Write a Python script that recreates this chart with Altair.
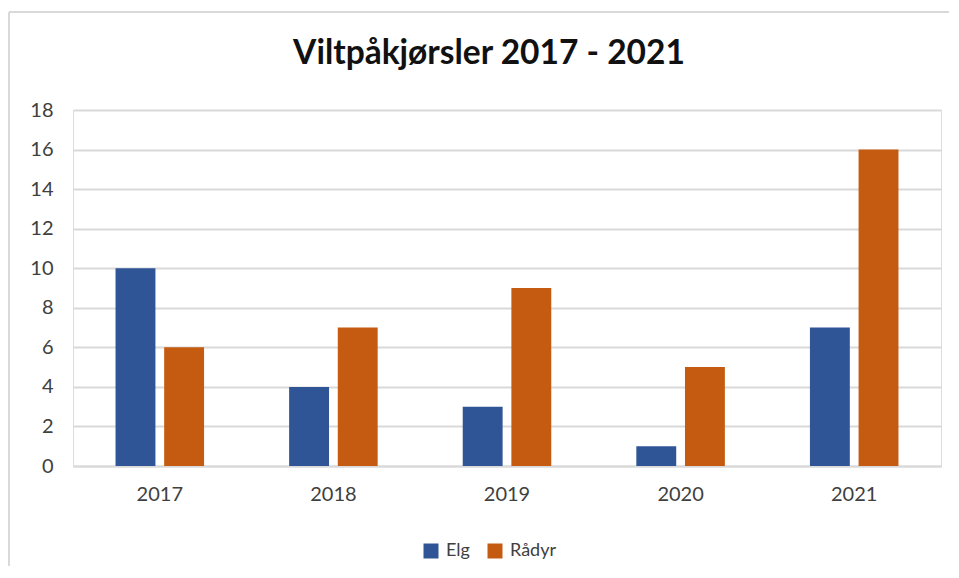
import altair as alt
import pandas as pd

years = ["2017", "2018", "2019", "2020", "2021"]
elg = [10, 4, 3, 1, 7]
radyr = [6, 7, 9, 5, 16]
series = ["Elg", "Rådyr"]
colors = ["#2F5597", "#C55A11"]
y_ticks = [0, 2, 4, 6, 8, 10, 12, 14, 16, 18]

rows = []
for i, yr in enumerate(years):
    rows.append({"År": yr, "Art": "Elg", "Antall": elg[i]})
    rows.append({"År": yr, "Art": "Rådyr", "Antall": radyr[i]})
df = pd.DataFrame(rows)

FONT = "Lato"
TXT = "#404040"

one = pd.DataFrame({"a": [0]})
frame_top = alt.Chart(one).mark_rule(stroke="#d9d9d9", strokeWidth=2).encode(
    x=alt.value(-64), x2=alt.value(880), y=alt.value(-98)
)
frame_left = alt.Chart(one).mark_rule(stroke="#d9d9d9", strokeWidth=2).encode(
    x=alt.value(-64), y=alt.value(-98), y2=alt.value(460)
)

bars = alt.Chart(df).mark_bar().encode(
    x=alt.X(
        "År:N", sort=years,
        scale=alt.Scale(paddingInner=0.49, paddingOuter=0.245),
        axis=alt.Axis(title=None, labelAngle=0, labelFontSize=20, labelPadding=18,
                      ticks=False, domainColor="#d9d9d9", domainWidth=2,
                      labelColor=TXT, labelFont=FONT, grid=False),
    ),
    xOffset=alt.XOffset("Art:N", sort=series, scale=alt.Scale(paddingInner=0.18)),
    y=alt.Y(
        "Antall:Q", scale=alt.Scale(domain=[0, 18]),
        axis=alt.Axis(title=None, values=y_ticks, labelFontSize=20, labelPadding=20,
                      ticks=False, domain=False, gridColor="#d9d9d9", gridWidth=2,
                      labelColor=TXT, labelFont=FONT),
    ),
    color=alt.Color(
        "Art:N", sort=series,
        scale=alt.Scale(domain=series, range=colors),
        legend=alt.Legend(title=None, orient="none", legendX=349, legendY=432,
                          direction="horizontal", symbolType="square", symbolSize=225,
                          symbolStrokeWidth=0, labelFontSize=18, labelFont=FONT,
                          labelColor=TXT, labelOffset=6, columnPadding=16),
    ),
)

chart = alt.layer(frame_top, frame_left, bars).properties(
    width=868, height=356,
    title=alt.TitleParams("Viltpåkjørsler 2017 - 2021", font=FONT, fontSize=33.5,
                          fontWeight="bold", color="#111111", anchor="middle",
                          dx=-18, dy=64),
    padding={"left": 65, "top": 102, "right": 8, "bottom": 100},
    autosize=alt.AutoSizeParams(type="none"),
).configure_view(stroke=None).configure(background="white")

chart.save("out.html", embed_options={"renderer": "svg", "actions": False})
